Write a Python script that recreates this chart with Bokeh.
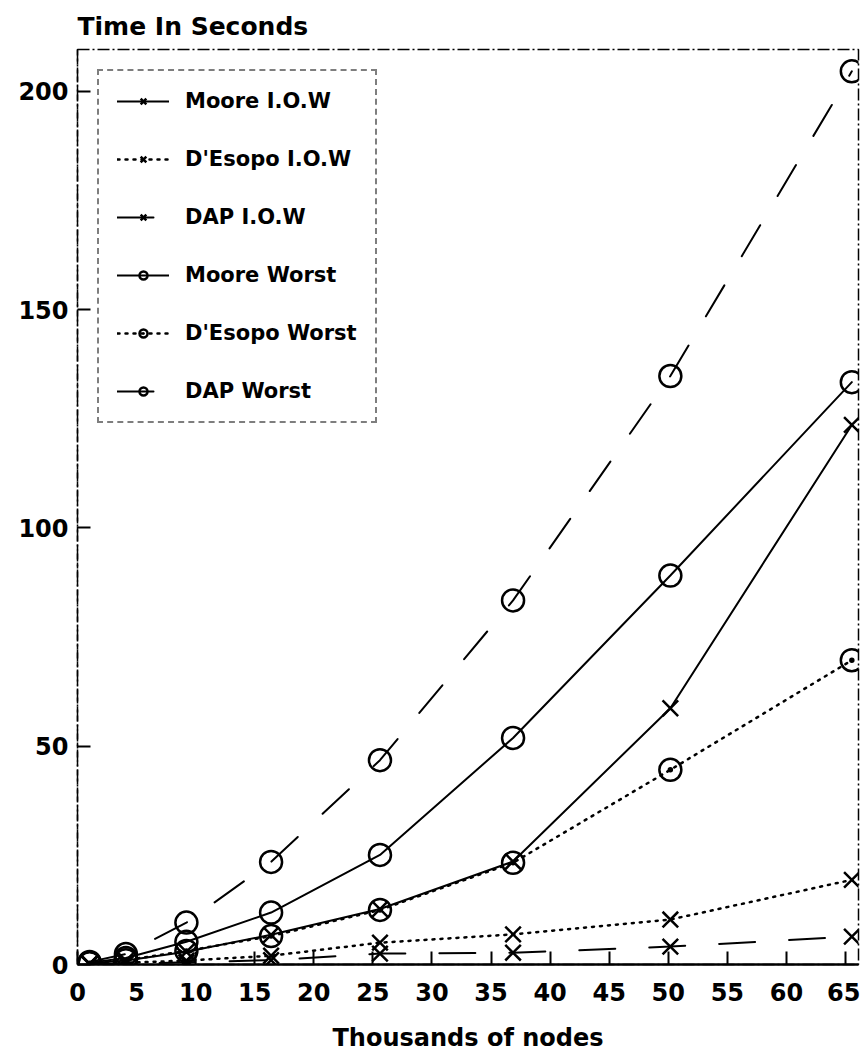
from bokeh.plotting import figure
from bokeh.models import Range1d, FixedTicker
from bokeh.embed import file_html
from bokeh.resources import INLINE

# ---- data (thousands of nodes vs seconds) ----
x_nodes = [1.024, 4.096, 9.216, 16.384, 25.6, 36.864, 50.176, 65.536]
moore_iow = [0.2, 0.9, 2.9, 6.8, 12.7, 23.6, 58.7, 123.6]
desopo_iow = [0.1, 0.4, 0.9, 2.0, 5.0, 6.9, 10.3, 19.4]
dap_iow = [0.05, 0.2, 0.5, 1.0, 2.5, 2.7, 4.1, 6.4]
moore_worst = [0.4, 1.5, 5.2, 11.9, 25.1, 51.9, 89.1, 133.4]
desopo_worst = [0.3, 1.0, 3.1, 6.5, 12.5, 23.3, 44.6, 69.7]
dap_worst = [0.6, 2.4, 9.6, 23.5, 46.8, 83.4, 134.8, 204.6]

x_ticks = [0, 5, 10, 15, 20, 25, 30, 35, 40, 45, 50, 55, 60, 65]
y_ticks = [0, 50, 100, 150, 200]

FONT = "DejaVu Sans"

p = figure(width=860, height=1054,
           x_range=Range1d(0, 66.1), y_range=Range1d(0, 209.6),
           output_backend="svg", toolbar_location=None,
           min_border_left=77, min_border_right=2,
           min_border_top=48, min_border_bottom=89)

p.title.text = "Time In Seconds"
p.title.text_font = FONT
p.title.text_font_size = "25px"
p.title.text_font_style = "bold"
p.title.text_color = "black"
p.title.align = "left"
p.title.standoff = 18

p.xgrid.visible = False
p.ygrid.visible = False
p.background_fill_color = "white"
p.border_fill_color = "white"
p.outline_line_color = "black"
p.outline_line_width = 1.5
p.outline_line_dash = "12 3 2 3"

p.xaxis.ticker = FixedTicker(ticks=x_ticks)
p.yaxis.ticker = FixedTicker(ticks=y_ticks)
for ax in (p.xaxis[0], p.yaxis[0]):
    ax.major_tick_in = 13
    ax.major_tick_out = 0
    ax.minor_tick_in = 0
    ax.minor_tick_out = 0
    ax.major_tick_line_width = 2
    ax.major_tick_line_color = "black"
    ax.major_label_text_font = FONT
    ax.major_label_text_font_size = "24px"
    ax.major_label_text_font_style = "bold"
    ax.major_label_text_color = "black"
    ax.axis_line_color = "black"

p.xaxis.axis_line_width = 2.5
p.yaxis.axis_line_width = 1.5
p.yaxis.axis_line_dash = "6 3"
p.xaxis.major_label_standoff = 18
p.yaxis.major_label_standoff = 9
p.xaxis.axis_label = "Thousands of nodes"
p.xaxis.axis_label_text_font = FONT
p.xaxis.axis_label_text_font_size = "24px"
p.xaxis.axis_label_text_font_style = "bold"
p.xaxis.axis_label_text_color = "black"
p.xaxis.axis_label_standoff = 20

series = [
    ("Moore I.O.W", moore_iow, "solid", "x"),
    ("D'Esopo I.O.W", desopo_iow, "2 6", "x"),
    ("DAP I.O.W", dap_iow, "36 34", "x"),
    ("Moore Worst", moore_worst, "solid", "circle"),
    ("D'Esopo Worst", desopo_worst, "2 6", "circle_dot"),
    ("DAP Worst", dap_worst, "36 34", "circle"),
]

for name, ys, dash, marker in series:
    lw = 2.5 if dash == "2 6" else 2
    p.line(x_nodes, ys, line_color="black", line_width=lw, line_dash=dash,
           line_cap="round", legend_label=name)
for name, ys, dash, marker in series:
    p.scatter(x_nodes, ys, marker=marker, size=22, fill_color=None,
              line_color="black", line_width=2.5, legend_label=name)

lg = p.legend[0]
lg.location = "top_left"
lg.margin = 20
lg.padding = 18
lg.spacing = 34
lg.glyph_width = 52
lg.glyph_height = 20
lg.label_height = 20
lg.label_standoff = 16
lg.label_text_font = FONT
lg.label_text_font_size = "21px"
lg.label_text_font_style = "bold"
lg.label_text_color = "black"
lg.border_line_color = "black"
lg.border_line_width = 2
lg.border_line_dash = "14 2"
lg.background_fill_color = "white"
lg.background_fill_alpha = 1.0

open("out.html", "w").write(file_html(p, INLINE))
